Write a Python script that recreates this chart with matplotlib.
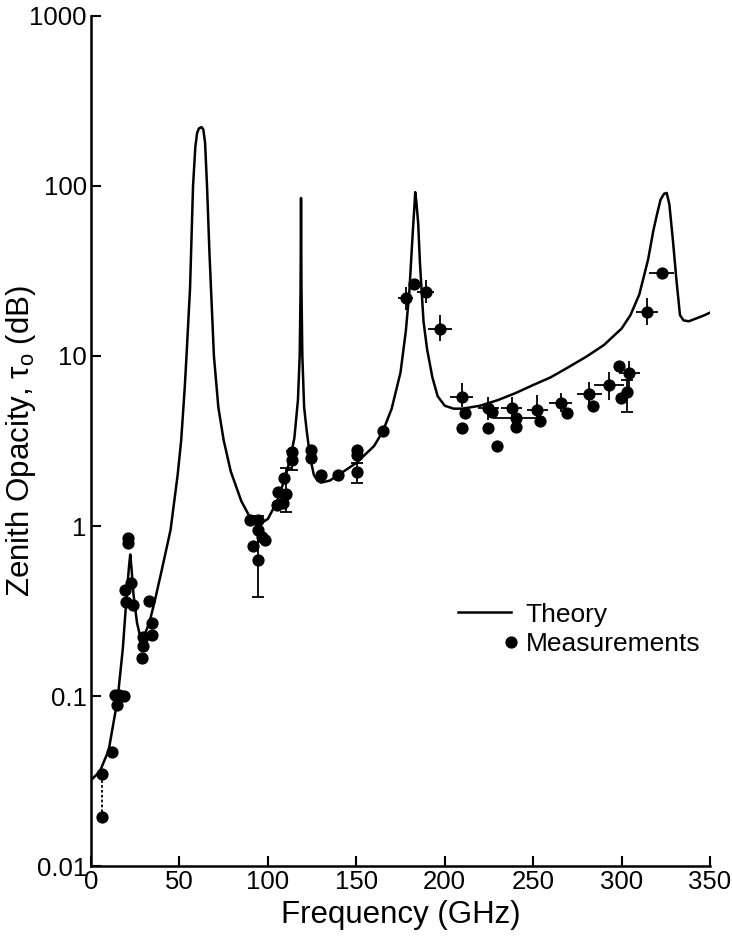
import matplotlib.pyplot as plt
from matplotlib.ticker import FixedLocator, NullLocator
from matplotlib.legend_handler import HandlerLine2D

plt.rcParams['font.family'] = ['Liberation Sans', 'DejaVu Sans']
plt.rcParams['mathtext.fontset'] = 'custom'
plt.rcParams['mathtext.rm'] = 'Liberation Sans'
plt.rcParams['mathtext.it'] = 'Liberation Sans'

# Theory curve (GHz, dB)
theory_freq = [0, 5, 10, 15, 18, 20, 21.5, 22.2, 23, 24, 26, 28, 30, 33, 36, 40, 45, 49,
               51, 53, 54, 56, 57.7, 59, 60, 61, 62.5, 63.5, 64.5, 65.6, 67, 69.5, 72, 75,
               79, 85, 90, 95, 100, 105, 110, 113, 115, 117, 118, 118.5, 118.75, 119,
               119.5, 120.5, 122, 124, 126, 128, 130, 135, 140, 150, 160, 165, 170, 175,
               178, 180, 182, 183, 183.3, 184, 185, 186, 188, 190, 193, 196, 200, 205, 210,
               220, 230, 240, 250, 260, 270, 280, 290, 300, 305, 310, 315, 318, 320, 322,
               324, 325.5, 327, 329, 331, 333, 335, 338, 342, 347, 350]
theory_tau = [0.032, 0.036, 0.048, 0.095, 0.19, 0.37, 0.58, 0.68, 0.55, 0.40, 0.27, 0.22,
              0.225, 0.27, 0.36, 0.55, 0.95, 2.0, 3.2, 6.5, 10, 25, 100, 170, 205, 218,
              222, 215, 180, 100, 40, 10, 5.0, 3.2, 2.1, 1.4, 1.12, 1.02, 1.1, 1.38, 1.95,
              2.6, 3.3, 5.5, 10, 25, 85, 25, 10, 5.0, 3.6, 2.5, 2.0, 1.85, 1.8, 1.85, 2.0,
              2.35, 2.95, 3.6, 4.9, 8, 14, 24, 55, 80, 92, 80, 60, 35, 16, 11, 7.5, 5.8,
              5.1, 4.9, 4.9, 5.1, 5.5, 6.05, 6.75, 7.5, 8.6, 9.9, 11.6, 14.5, 17.4, 23,
              37, 55, 68, 83, 90, 91, 78, 48, 28, 17.4, 16.2, 16.0, 16.6, 17.4, 18.0]

# Measurements without error bars
meas_freq = [6, 11.7, 13.3, 15.8, 18.5, 14.5, 19.2, 19.8, 21.1, 21.1, 22.5, 23.9, 29.0,
             29.6, 29.6, 33.0, 34.3, 34.3, 89.9, 91.8, 94.2, 94.2, 96.5, 98.4, 105.0,
             105.9, 108.7, 109.3, 113.8, 124.4, 124.4, 129.8, 139.8, 150.2, 150.2, 165.2,
             182.6, 211.4, 209.5, 226.5, 224.6, 229.7, 240.2, 253.8, 268.9, 284.0, 298.6,
             299.4]
meas_tau = [0.0195, 0.047, 0.101, 0.101, 0.1, 0.089, 0.42, 0.355, 0.85, 0.79, 0.46, 0.343,
            0.168, 0.197, 0.223, 0.36, 0.27, 0.228, 1.08, 0.76, 0.95, 0.63, 0.865, 0.83,
            1.33, 1.59, 1.37, 1.91, 2.73, 2.8, 2.5, 2.0, 2.0, 2.8, 2.6, 3.6, 26.5, 4.6,
            3.79, 4.7, 3.79, 2.95, 3.84, 4.14, 4.64, 5.08, 8.7, 5.63]

# Measurements with crossed error bars (no caps)
err_freq = [178.0, 189.4, 197.3, 209.5, 224.6, 237.8, 252.3, 265.5, 281.7, 293.0, 304.3,
            240.2, 314.1, 322.6]
err_tau = [21.9, 23.9, 14.5, 5.75, 4.93, 4.93, 4.82, 5.26, 5.98, 6.74, 7.9, 4.29, 18.2, 30.6]
err_dx = [4.3, 4.8, 6.8, 6.5, 6.0, 6.0, 6.0, 6.5, 7.0, 8.5, 6.0, 13.0, 6.2, 7.0]
err_lo = [18.7, 20.4, 12.2, 5.0, 4.2, 4.3, 4.3, 4.7, 5.03, 5.5, 6.58, 4.29, 15.2, 30.6]
err_hi = [25.6, 28.0, 17.4, 6.9, 5.76, 5.76, 5.9, 6.04, 7.07, 8.1, 9.37, 4.29, 22.0, 30.6]

# Measurements with capped vertical error bars
cap_freq = [94.6, 110.0, 113.4, 150.2, 303.2]
cap_tau = [1.08, 1.55, 2.45, 2.08, 6.17]
cap_lo = [0.38, 1.21, 2.13, 1.8, 4.7]
cap_hi = [1.15, 2.19, 2.75, 2.35, 7.2]

# Lowest point with the dotted bar down to the second reading
dot_freq = [6]
dot_tau = [0.035]
dot_lo = [0.0195]


class RightMarker(HandlerLine2D):
    # put the legend marker at the right end of the handle, as in the original
    def get_xdata(self, legend, xdescent, ydescent, width, height, fontsize):
        xr = width - xdescent
        return [xr, xr], [xr]


fig = plt.figure(figsize=(7.32, 9.39), dpi=100)
ax = fig.add_axes([0.1243, 0.0777, 0.8457, 0.9053])

ax.plot(theory_freq, theory_tau, color='black', lw=1.8, label='Theory')

meas, = ax.plot(meas_freq, meas_tau, 'o', color='black', ms=7.8, label='Measurements')

ax.errorbar(err_freq, err_tau, xerr=err_dx,
            yerr=[[t - l for t, l in zip(err_tau, err_lo)],
                  [h - t for t, h in zip(err_tau, err_hi)]],
            fmt='o', color='black', ms=7.8, elinewidth=1.3, capsize=0)

ax.errorbar(cap_freq, cap_tau,
            yerr=[[t - l for t, l in zip(cap_tau, cap_lo)],
                  [h - t for t, h in zip(cap_tau, cap_hi)]],
            fmt='o', color='black', ms=7.8, elinewidth=1.3, capsize=4, capthick=1.3)

eb = ax.errorbar(dot_freq, dot_tau,
                 yerr=[[t - l for t, l in zip(dot_tau, dot_lo)], [0]],
                 fmt='o', color='black', ms=7.8, elinewidth=1.3, capsize=0)
eb[2][0].set_linestyle((0, (1.5, 1.2)))

ax.set_yscale('log')
ax.set_xlim(0, 350)
ax.set_ylim(0.01, 1000)

ax.xaxis.set_major_locator(FixedLocator([0, 50, 100, 150, 200, 250, 300, 350]))
yt = [0.01, 0.1, 1, 10, 100, 1000]
ax.yaxis.set_major_locator(FixedLocator(yt))
ax.yaxis.set_minor_locator(NullLocator())
ax.set_yticklabels(['0.01', '0.1', '1', '10', '100', '1000'])

for s in ['top', 'right']:
    ax.spines[s].set_visible(False)
for s in ['left', 'bottom']:
    ax.spines[s].set_linewidth(1.8)
ax.tick_params(direction='in', length=7, width=1.5, labelsize=18.5, pad=3)

ax.set_xlabel('Frequency (GHz)', fontsize=22.5, labelpad=4)
ax.set_ylabel(r'Zenith Opacity, $\tau_{\mathrm{o}}$ (dB)', fontsize=22.5)
ax.yaxis.set_label_coords(-0.086, 0.5)

ax.legend(loc='upper left', bbox_to_anchor=(0.593, 0.31), frameon=False,
          borderpad=0, borderaxespad=0,
          fontsize=19, handlelength=2.0, handletextpad=0.55, labelspacing=0.22,
          numpoints=1, handler_map={meas: RightMarker()})

fig.savefig('out.png', dpi=100)
